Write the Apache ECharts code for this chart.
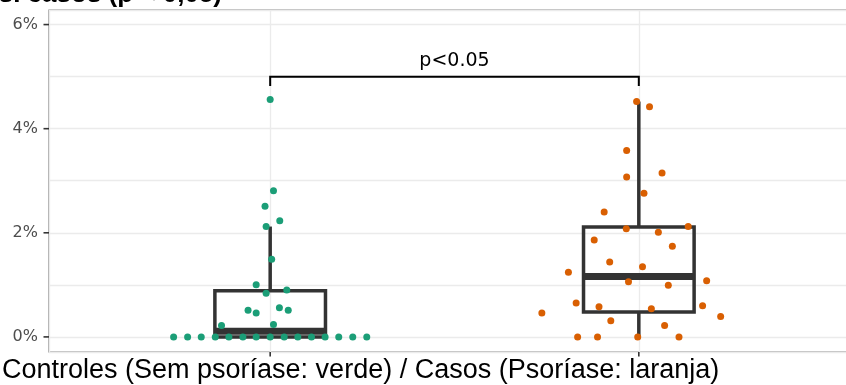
<!DOCTYPE html>
<html>
<head>
<meta charset="utf-8">
<script src="https://cdn.jsdelivr.net/npm/echarts@6/dist/echarts.min.js"></script>
<style>
  html, body { margin: 0; padding: 0; background: #ffffff; }
  #chart { width: 846px; height: 385px; }
</style>
</head>
<body>
<div id="chart"></div>
<script>
// Group positions on the horizontal scale (1 = controles, 2 = casos)
const groupPositions = [1, 2];
const groupColors = ['#1B9E77', '#D95F02'];

// Controles: values (%) and horizontal spread of each dot (group units)
const controlValues = [4.56, 2.81, 2.51, 2.23, 2.12, 1.49, 1.00, 0.90, 0.84, 0.51,
  0.46, 0.56, 0.51, 0.22, 0.24,
  0, 0, 0, 0, 0, 0, 0, 0, 0, 0, 0, 0, 0, 0, 0];
const controlOffsets = [0.000, 0.009, -0.014, 0.026, -0.011, 0.004, -0.038, 0.045, -0.011, -0.060,
  -0.038, 0.025, 0.049, -0.132, 0.009,
  -0.262, -0.224, -0.187, -0.149, -0.112, -0.074, -0.038, 0.000, 0.038, 0.075, 0.112, 0.149, 0.186, 0.224, 0.262];

// Casos: values (%) and horizontal spread of each dot (group units)
const caseValues = [4.52, 4.42, 3.58, 3.07, 3.15, 2.76, 2.40, 2.08, 2.12, 2.01,
  1.86, 1.74, 1.44, 1.35, 1.24, 1.06, 0.99, 1.08, 0.65, 0.58,
  0.60, 0.54, 0.46, 0.39, 0.31, 0.22, 0, 0, 0, 0];
const caseOffsets = [-0.006, 0.029, -0.033, -0.033, 0.063, 0.014, -0.094, -0.034, 0.134, 0.053,
  -0.121, 0.091, -0.079, 0.010, -0.191, -0.028, 0.080, 0.184, -0.170, -0.108,
  0.173, 0.034, -0.263, 0.222, -0.076, 0.070, -0.166, -0.112, -0.003, 0.109];

// Axis ticks and gridlines
const yTickValues = [0, 2, 4, 6];

// Significance bracket between the two groups
const bracketGroups = [1, 2];
const bracketHeight = 5.0;
const bracketDrop = 4.82;
const bracketLabel = 'p<0.05';

const plotTitle = 'vs. casos (p < 0,05)';
const xTitle = 'Controles (Sem psoríase: verde) / Casos (Psoríase: laranja)';

const xMin = 0.4, xMax = 2.6;
const yMin = -0.29, yMax = 6.28;
const boxWidth = 0.3;

// Quantile (linear interpolation between order statistics)
function quantile(sorted, p) {
  const h = (sorted.length - 1) * p;
  const lo = Math.floor(h), hi = Math.ceil(h);
  return sorted[lo] + (h - lo) * (sorted[hi] - sorted[lo]);
}
// [lower whisker, Q1, median, Q3, upper whisker] with 1.5 * IQR whiskers
function boxStats(values) {
  const s = values.slice().sort((a, b) => a - b);
  const q1 = quantile(s, 0.25), med = quantile(s, 0.5), q3 = quantile(s, 0.75);
  const iqr = q3 - q1;
  const lo = Math.min(...s.filter(v => v >= q1 - 1.5 * iqr));
  const hi = Math.max(...s.filter(v => v <= q3 + 1.5 * iqr));
  return [lo, q1, med, q3, hi];
}

const groupValues = [controlValues, caseValues];
const groupOffsets = [controlOffsets, caseOffsets];
const boxData = groupPositions.map((x, i) => [x].concat(boxStats(groupValues[i])));

const chart = echarts.init(document.getElementById('chart'), null, { renderer: 'canvas' });

const boxSeries = {
  type: 'custom',
  z: 3,
  encode: { x: 0, y: [1, 2, 3, 4, 5] },
  data: boxData,
  renderItem(params, api) {
    const x = api.value(0);
    const pLo = api.coord([x, api.value(1)]);
    const pQ1 = api.coord([x, api.value(2)]);
    const pMed = api.coord([x, api.value(3)]);
    const pQ3 = api.coord([x, api.value(4)]);
    const pHi = api.coord([x, api.value(5)]);
    const half = api.size([boxWidth, 0])[0] / 2;
    const line = { stroke: '#333333', lineWidth: 3.5, fill: null };
    return {
      type: 'group',
      children: [
        { type: 'line', shape: { x1: pQ3[0], y1: pQ3[1], x2: pHi[0], y2: pHi[1] }, style: line },
        { type: 'line', shape: { x1: pLo[0], y1: pLo[1], x2: pQ1[0], y2: pQ1[1] }, style: line },
        { type: 'rect', shape: { x: pQ3[0] - half, y: pQ3[1], width: 2 * half, height: pQ1[1] - pQ3[1] },
          style: { stroke: '#333333', lineWidth: 3.5, fill: 'none' } },
        { type: 'line', shape: { x1: pMed[0] - half, y1: pMed[1], x2: pMed[0] + half, y2: pMed[1] },
          style: { stroke: '#333333', lineWidth: 7 } }
      ]
    };
  }
};

const pointSeries = groupPositions.map((x, i) => ({
  type: 'scatter',
  z: 4,
  symbol: 'circle',
  symbolSize: 7,
  itemStyle: { color: groupColors[i], opacity: 1 },
  silent: true,
  data: groupValues[i].map((v, j) => [x + groupOffsets[i][j], v])
}));

const bracketSeries = {
  type: 'custom',
  z: 5,
  encode: { x: [0, 1], y: [2, 3] },
  data: [[bracketGroups[0], bracketGroups[1], bracketHeight, bracketDrop]],
  renderItem(params, api) {
    const a = api.coord([api.value(0), api.value(2)]);
    const b = api.coord([api.value(1), api.value(2)]);
    const da = api.coord([api.value(0), api.value(3)]);
    const db = api.coord([api.value(1), api.value(3)]);
    return {
      type: 'group',
      children: [
        { type: 'polyline', shape: { points: [da, a, b, db] },
          style: { stroke: '#000000', lineWidth: 2, fill: null } },
        { type: 'text', x: (a[0] + b[0]) / 2, y: a[1] - 16,
          style: { text: bracketLabel, font: '19px "DejaVu Sans"', fill: '#000000',
                   align: 'center', verticalAlign: 'middle' } }
      ]
    };
  }
};

// Short outward tick marks on the left and bottom edges of the panel
const yTickSeries = {
  type: 'custom',
  z: 5,
  clip: false,
  encode: { x: 0, y: 1 },
  data: yTickValues.map(v => [xMin, v]),
  renderItem(params, api) {
    const p = api.coord([api.value(0), api.value(1)]);
    return { type: 'line', shape: { x1: p[0] - 5.5, y1: p[1], x2: p[0], y2: p[1] },
             style: { stroke: '#333333', lineWidth: 1.6 } };
  }
};
const xTickSeries = {
  type: 'custom',
  z: 5,
  clip: false,
  encode: { x: 0, y: 1 },
  data: groupPositions.map(x => [x, yMin]),
  renderItem(params, api) {
    const p = api.coord([api.value(0), api.value(1)]);
    return { type: 'line', shape: { x1: p[0], y1: p[1], x2: p[0], y2: p[1] + 4.5 },
             style: { stroke: '#333333', lineWidth: 1.6 } };
  }
};

chart.setOption({
  animation: false,
  backgroundColor: '#ffffff',
  grid: {
    left: 49, top: 10, width: 811, bottom: 33,
    outerBoundsMode: 'none', containLabel: false,
    show: true, borderColor: '#7a7a7a', borderWidth: 1.2, backgroundColor: 'transparent'
  },
  xAxis: {
    type: 'value', min: xMin, max: xMax, minInterval: 1, maxInterval: 1,
    axisLine: { show: false }, axisTick: { show: false }, axisLabel: { show: false },
    splitLine: { show: true, lineStyle: { color: '#EBEBEB', width: 1.3 } }
  },
  yAxis: [
    {
      type: 'value', min: yMin, max: yMax, minInterval: 2, maxInterval: 2,
      axisLine: { show: false }, axisTick: { show: false },
      axisLabel: {
        show: true, margin: 11, color: '#4D4D4D', fontSize: 16, fontFamily: 'DejaVu Sans',
        showMinLabel: false, showMaxLabel: false,
        formatter: v => (yTickValues.indexOf(v) >= 0 ? v + '%' : '')
      },
      splitLine: { show: false }
    },
    {
      type: 'value', min: yMin, max: yMax, minInterval: 1, maxInterval: 1, position: 'left',
      axisLine: { show: false }, axisTick: { show: false }, axisLabel: { show: false },
      splitLine: { show: true, lineStyle: { color: '#EBEBEB', width: 1.3 } }
    }
  ],
  graphic: [
    { type: 'text', x: 222, y: -4.9, silent: true,
      style: { text: plotTitle, font: 'bold 26px "Liberation Sans"', fill: '#000000',
               align: 'right', verticalAlign: 'middle' } },
    { type: 'text', x: 2, y: 371, silent: true,
      style: { text: xTitle, font: '27px "Liberation Sans"', fill: '#000000',
               align: 'left', verticalAlign: 'middle' } }
  ],
  series: [boxSeries].concat(pointSeries, [bracketSeries, yTickSeries, xTickSeries])
});
</script>
</body>
</html>
